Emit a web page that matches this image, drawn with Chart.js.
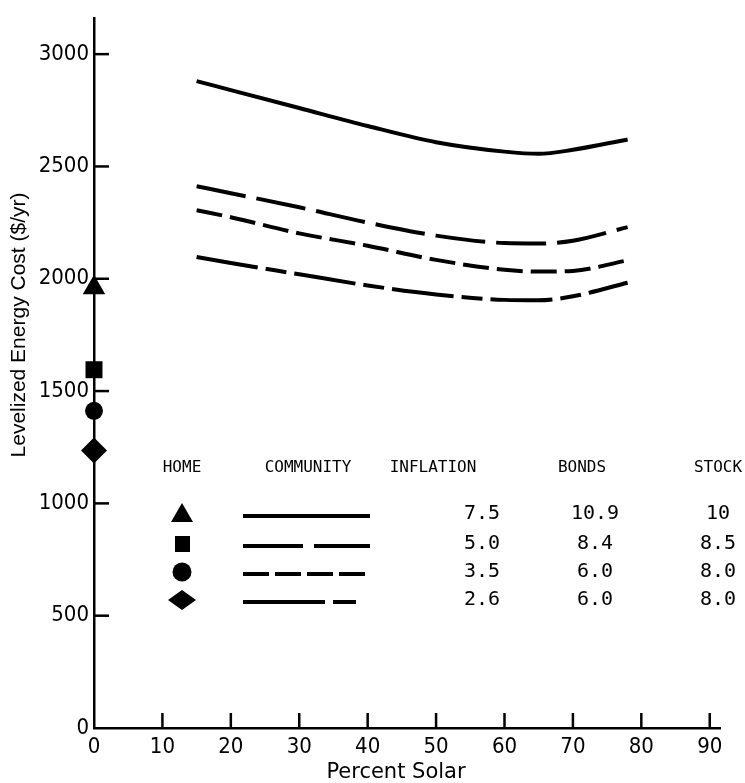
<!DOCTYPE html>
<html>
<head>
<meta charset="utf-8">
<script src="https://cdn.jsdelivr.net/npm/chart.js@4/dist/chart.umd.min.js"></script>
<style>
  html, body { margin: 0; padding: 0; background: #fff; }
  #wrap { width: 745px; height: 783px; position: relative; }
</style>
</head>
<body>
<div id="wrap"><canvas id="costChart"></canvas></div>
<script>
// percent solar at which the community curves were read
const solarPct = [15, 20, 30, 40, 50, 60, 65, 70, 78];
// levelized energy cost ($/yr), one array per community case
const costCase1 = [2880, 2840, 2760, 2680, 2608, 2566, 2556, 2574, 2620];
const costCase2 = [2412, 2381, 2318, 2250, 2192, 2159, 2157, 2169, 2230];
const costCase3 = [2305, 2274, 2202, 2147, 2084, 2040, 2032, 2035, 2082];
const costCase4 = [2097, 2070, 2020, 1970, 1930, 1906, 1904, 1922, 1982];
// home system (0 % solar)
const homeCost = [1960, 1595, 1412, 1235];
const homeMarkers = ['triangle', 'rect', 'circle', 'rectRot'];
// axis ticks
const xTicks = [0, 10, 20, 30, 40, 50, 60, 70, 80, 90];
const yTicks = [0, 500, 1000, 1500, 2000, 2500, 3000];
// key table
const tableHeaders = ['HOME', 'COMMUNITY', 'INFLATION', 'BONDS', 'STOCK'];
const inflation = ['7.5', '5.0', '3.5', '2.6'];
const bonds = ['10.9', '8.4', '6.0', '6.0'];
const stock = ['10', '8.5', '8.0', '8.0'];

const axisFont = '"Liberation Sans Narrow", "DejaVu Sans Condensed", "Liberation Sans", sans-serif';
const monoFont = '"DejaVu Sans Mono", "Liberation Mono", monospace';
const dashes = [[], [50, 11], [26, 8], [62, 8, 21, 8]];
const legendDashes = [[], [60, 11], [26, 6], [82, 8, 23, 100]];

function pts(ys) {
    return solarPct.map((x, i) => ({ x: x, y: ys[i] }));
}

function curve(ys, dash) {
    return {
        type: 'line',
        data: pts(ys),
        borderColor: '#000',
        borderWidth: 4,
        borderDash: dash,
        borderCapStyle: 'butt',
        cubicInterpolationMode: 'monotone',
        pointRadius: 0,
        fill: false
    };
}

// tick marks point into the plot, like the original
const inwardTicks = {
    id: 'inwardTicks',
    afterDatasetsDraw(chart) {
        const { ctx, chartArea, scales: { x, y } } = chart;
        ctx.save();
        ctx.strokeStyle = '#000';
        ctx.lineWidth = 2.5;
        x.ticks.forEach(t => {
            if (t.value === 0) return;
            const px = x.getPixelForValue(t.value);
            ctx.beginPath();
            ctx.moveTo(px, chartArea.bottom);
            ctx.lineTo(px, chartArea.bottom - 15);
            ctx.stroke();
        });
        y.ticks.forEach(t => {
            if (t.value === 0) return;
            const py = y.getPixelForValue(t.value);
            ctx.beginPath();
            ctx.moveTo(chartArea.left, py);
            ctx.lineTo(chartArea.left + 15, py);
            ctx.stroke();
        });
        ctx.restore();
    }
};

// axis titles and the key table
const annotations = {
    id: 'annotations',
    afterDraw(chart) {
        const ctx = chart.ctx;
        ctx.save();
        ctx.fillStyle = '#000';
        ctx.strokeStyle = '#000';
        ctx.textAlign = 'center';
        ctx.textBaseline = 'middle';

        ctx.font = '21px "DejaVu Sans", sans-serif';
        ctx.fillText('Percent Solar', 396, 773);
        ctx.font = '21px "Liberation Sans", sans-serif';
        ctx.save();
        ctx.translate(19, 325);
        ctx.rotate(-Math.PI / 2);
        ctx.fillText('Levelized Energy Cost ($/yr)', 0, 0);
        ctx.restore();

        // headers
        const headX = [182, 308, 433, 582, 718];
        ctx.font = '16px ' + monoFont;
        tableHeaders.forEach((h, i) => ctx.fillText(h, headX[i], 468));

        const rowY = [514, 544, 572, 600];
        rowY.forEach((ry, i) => {
            // home marker
            ctx.beginPath();
            if (homeMarkers[i] === 'triangle') {
                ctx.moveTo(182, ry - 11);
                ctx.lineTo(193, ry + 8);
                ctx.lineTo(171, ry + 8);
            } else if (homeMarkers[i] === 'rect') {
                ctx.rect(175, ry - 8, 15, 16);
            } else if (homeMarkers[i] === 'circle') {
                ctx.arc(182, ry, 9.5, 0, Math.PI * 2);
            } else {
                ctx.moveTo(182, ry - 10);
                ctx.lineTo(196, ry);
                ctx.lineTo(182, ry + 10);
                ctx.lineTo(168, ry);
            }
            ctx.closePath();
            ctx.fill();

            // community line sample
            ctx.lineWidth = 4;
            ctx.setLineDash(legendDashes[i]);
            ctx.beginPath();
            ctx.moveTo(243, ry + 2);
            ctx.lineTo(i === 3 ? 358 : 370, ry + 2);
            ctx.stroke();
            ctx.setLineDash([]);

            // numbers
            ctx.font = '20px ' + monoFont;
            ctx.fillText(inflation[i], 482, ry);
            ctx.fillText(bonds[i], 595, ry);
            ctx.fillText(stock[i], 718, ry);
        });
        ctx.restore();
    }
};

const ctx = document.getElementById('costChart');
new Chart(ctx, {
    data: {
        datasets: [
            curve(costCase1, dashes[0]),
            curve(costCase2, dashes[1]),
            curve(costCase3, dashes[2]),
            curve(costCase4, dashes[3]),
            {
                type: 'scatter',
                data: homeCost.map(v => ({ x: 0, y: v })),
                pointStyle: homeMarkers,
                pointRadius: [13, 12, 9, 13],
                backgroundColor: '#000',
                borderColor: '#000',
                borderWidth: 0,
                clip: false
            }
        ]
    },
    options: {
        responsive: true,
        maintainAspectRatio: false,
        animation: false,
        layout: { padding: { top: 13, right: 25, left: 0, bottom: 0 } },
        plugins: {
            legend: { display: false },
            tooltip: { enabled: false }
        },
        scales: {
            x: {
                type: 'linear',
                min: 0,
                max: 91.5,
                grid: { display: false, drawTicks: false },
                border: { display: true, color: '#000', width: 2.5 },
                afterBuildTicks(scale) { scale.ticks = xTicks.map(v => ({ value: v })); },
                ticks: {
                    color: '#000',
                    padding: 6,
                    font: { family: axisFont, size: 22 },
                    callback: v => String(v)
                },
                afterFit(scale) { scale.height = 55; }
            },
            y: {
                type: 'linear',
                min: 0,
                max: 3160,
                grid: { display: false, drawTicks: false },
                border: { display: true, color: '#000', width: 2.5 },
                afterBuildTicks(scale) { scale.ticks = yTicks.map(v => ({ value: v })); },
                ticks: {
                    color: '#000',
                    padding: 5,
                    font: { family: axisFont, size: 22 },
                    callback: v => String(v)
                },
                afterFit(scale) { scale.width = 94; }
            }
        }
    },
    plugins: [inwardTicks, annotations]
});
</script>
</body>
</html>
